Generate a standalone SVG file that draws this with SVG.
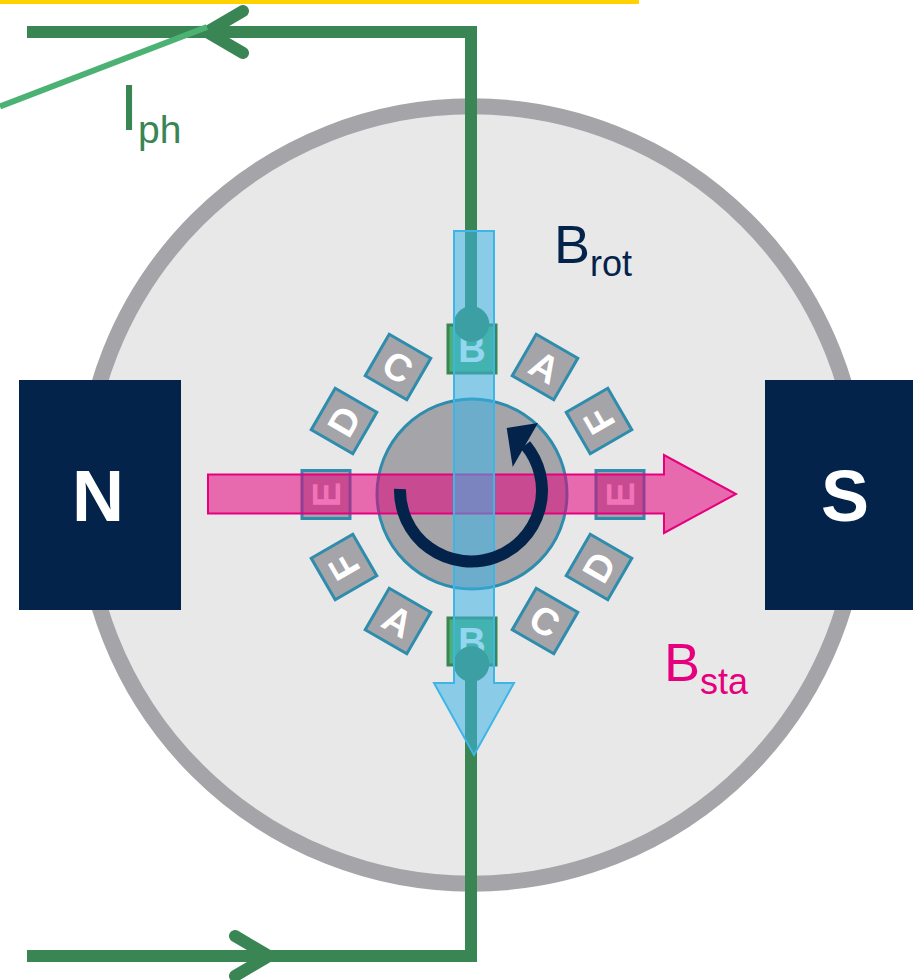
<svg xmlns="http://www.w3.org/2000/svg" width="913" height="980" viewBox="0 0 913 980">
<style>
.sq{fill:#a5a4a8;stroke:#2e8cad;stroke-width:3}
.lb{font:bold 38px "Liberation Sans",Arial,sans-serif;fill:#fff;text-anchor:middle}
.pole{fill:#03234b}
.pl{font:bold 72px "Liberation Sans",Arial,sans-serif;fill:#fff;text-anchor:middle}
.t{font-family:"Liberation Sans",Arial,sans-serif;font-size:54px}
.s{font-size:36px}
.w{fill:none;stroke:#3a8554;stroke-width:12}
</style>
<rect width="913" height="980" fill="#fff"/>
<rect id="top-bar" x="0" y="0" width="639" height="4" fill="#ffd200"/>
<g id="stator"><circle cx="471.700" cy="495" r="388.700" fill="#e8e8e9" stroke="#a5a4a8" stroke-width="16"/></g>
<g id="pole-n"><rect class="pole" x="19" y="380" width="162" height="230"/><text class="pl" x="98" y="521">N</text></g>
<g id="pole-s"><rect class="pole" x="765" y="380" width="148" height="230"/><text class="pl" x="845" y="521">S</text></g>
<g id="rotor"><circle cx="472" cy="494" r="95" fill="#a5a4a8" stroke="#2e8cad" stroke-width="3"/></g>
<g id="slot-b-top"><rect x="448" y="325" width="48" height="48" fill="#4cb273" stroke="#3a8554" stroke-width="3"/><text class="lb" x="472" y="362">B</text></g>
<g id="slot-b-bot"><rect x="448" y="618" width="48" height="47" fill="#4cb273" stroke="#3a8554" stroke-width="3"/><text class="lb" x="472" y="655">B</text></g>
<g id="slot-a1" transform="translate(545 367) rotate(30)"><rect class="sq" x="-24" y="-24" width="48" height="48"/><text class="lb" y="13.500">A</text></g>
<g id="slot-f1" transform="translate(599 421) rotate(-120)"><rect class="sq" x="-24" y="-24" width="48" height="48"/><text class="lb" y="13.500">F</text></g>
<g id="slot-e1" transform="translate(620 494.500) rotate(-90)"><rect class="sq" x="-24" y="-24" width="48" height="48"/><text class="lb" y="13.500">E</text></g>
<g id="slot-d1" transform="translate(599 567) rotate(-60)"><rect class="sq" x="-24" y="-24" width="48" height="48"/><text class="lb" y="13.500">D</text></g>
<g id="slot-c1" transform="translate(545 621) rotate(30)"><rect class="sq" x="-24" y="-24" width="48" height="48"/><text class="lb" y="13.500">C</text></g>
<g id="slot-a2" transform="translate(398 621) rotate(30)"><rect class="sq" x="-24" y="-24" width="48" height="48"/><text class="lb" y="13.500">A</text></g>
<g id="slot-f2" transform="translate(344 567) rotate(-120)"><rect class="sq" x="-24" y="-24" width="48" height="48"/><text class="lb" y="13.500">F</text></g>
<g id="slot-e2" transform="translate(326 494.500) rotate(-90)"><rect class="sq" x="-24" y="-24" width="48" height="48"/><text class="lb" y="13.500">E</text></g>
<g id="slot-d2" transform="translate(344 421) rotate(-60)"><rect class="sq" x="-24" y="-24" width="48" height="48"/><text class="lb" y="13.500">D</text></g>
<g id="slot-c2" transform="translate(398 367) rotate(30)"><rect class="sq" x="-24" y="-24" width="48" height="48"/><text class="lb" y="13.500">C</text></g>
<g id="connectors">
<path class="w" d="M27 32H471V324"/>
<path class="w" d="M27 956H471V664"/>
<path d="M243 11L207 32L243 53M235 936L269 956L235 976" fill="none" stroke="#3a8554" stroke-width="12" stroke-linecap="round"/>
<line x1="0" y1="106.500" x2="207" y2="27" stroke="#4cb273" stroke-width="6"/>
</g>
<g id="terminals" fill="#3a8554"><circle cx="471.500" cy="324" r="17.800"/><circle cx="471.500" cy="664" r="17.800"/></g>
<g id="b-sta"><path d="M208 474.500H664V455L736 494L664 533V513.500H208Z" fill="#e6007e" fill-opacity=".55" stroke="#e6007e" stroke-width="2"/></g>
<g id="b-rot"><path d="M454 231H494V683H514L474 755L434 683H454Z" fill="#3db5e6" fill-opacity=".55" stroke="#3db5e6" stroke-width="2"/></g>
<g id="rotation"><path d="M400 489A71 71 0 1 0 525.500 445" fill="none" stroke="#03234b" stroke-width="12"/><path d="M506.700 428L538 423L512.700 467Z" fill="#03234b"/></g>
<text id="i-ph" class="t" x="120" y="130" style="font-size:65px" fill="#3a8554">I<tspan x="138" y="143.300" style="font-size:39px">ph</tspan></text>
<text id="b-rot-label" class="t" x="554" y="263" fill="#03234b">B<tspan class="s" dy="13">rot</tspan></text>
<text id="b-sta-label" class="t" x="664" y="681" fill="#e6007e">B<tspan class="s" dy="13">sta</tspan></text>
</svg>
